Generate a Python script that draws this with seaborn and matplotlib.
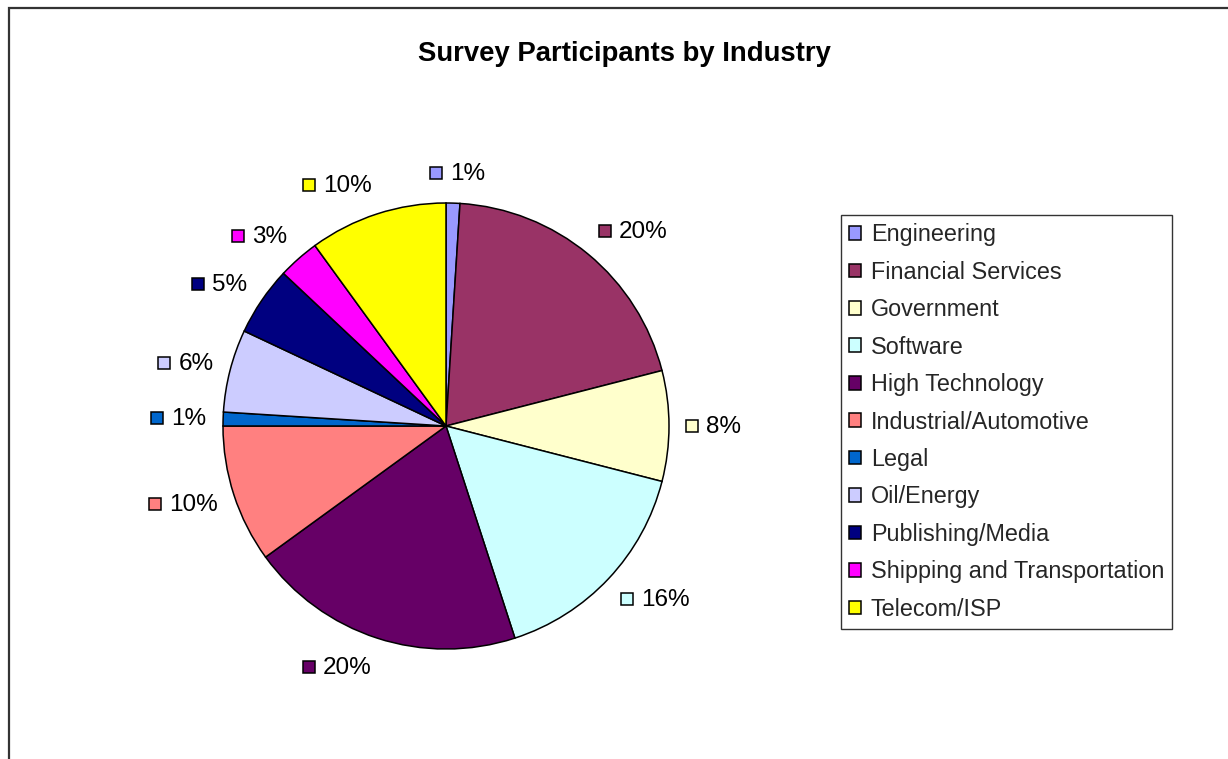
import numpy as np
import matplotlib
matplotlib.use("Agg")
import matplotlib.pyplot as plt
import seaborn as sns
from matplotlib.patches import Rectangle, Patch
from matplotlib.transforms import offset_copy

# Survey data: share of participants (%) per industry
industries = [
    "Engineering", "Financial Services", "Government", "Software",
    "High Technology", "Industrial/Automotive", "Legal", "Oil/Energy",
    "Publishing/Media", "Shipping and Transportation", "Telecom/ISP",
]
shares = [1, 20, 8, 16, 20, 10, 1, 6, 5, 3, 10]
slice_colors = [
    "#9999FF", "#993366", "#FFFFCC", "#CCFFFF", "#660066", "#FF8080",
    "#0066CC", "#CCCCFF", "#000080", "#FF00FF", "#FFFF00",
]
chart_title = "Survey Participants by Industry"

sns.set_theme(style="white")
plt.rcParams["font.family"] = ["Liberation Sans", "DejaVu Sans"]

W, H = 1228, 759
fig = plt.figure(figsize=(W / 100, H / 100), dpi=100)
fig.patch.set_facecolor("white")

# outer chart border (left and top edges visible, the rest runs off the canvas)
fig.add_artist(Rectangle((9 / W, -0.2), 1.3, 1.2 - 8 / H, transform=fig.transFigure,
                         fill=False, edgecolor="#333333", linewidth=1.6, clip_on=False))

# pie axes: centre and radius in pixels
cx, cy, R = 446, 426, 223
ax = fig.add_axes([(cx - R) / W, (H - cy - R) / H, 2 * R / W, 2 * R / H])
palette = sns.color_palette(slice_colors)
wedges, _ = ax.pie(shares, colors=palette, startangle=90, counterclock=False,
                   radius=1, wedgeprops=dict(edgecolor="black", linewidth=1.1))

# percentage labels ("outside end"): a colour key followed by the value,
# the label box pushed outward from an anchor just beyond the rim
renderer = fig.canvas.get_renderer()
label_fs = 17.5
anchor_r = 1.076
key_px, gap_px, box_h = 12, 8, 27
for w, v, col in zip(wedges, shares, palette):
    phi = np.deg2rad((w.theta1 + w.theta2) / 2)
    x, y = anchor_r * np.cos(phi), anchor_r * np.sin(phi)
    t = ax.text(x, y, f"{v}%", fontsize=label_fs, va="center", ha="left", color="black")
    tw = t.get_window_extent(renderer).width
    box_w = key_px + gap_px + tw
    dx = box_w / 2 * np.clip(5 * np.cos(phi), -1, 1)
    dy = box_h / 2 * np.sin(phi)
    left = dx - box_w / 2
    t.set_transform(offset_copy(ax.transData, fig=fig, x=left + key_px + gap_px,
                                y=dy - 1, units="dots"))
    ax.plot([x], [y], marker="s", ms=9, mfc=col, mec="black", mew=1.1, ls="none",
            transform=offset_copy(ax.transData, fig=fig, x=left + key_px / 2, y=dy,
                                  units="dots"),
            clip_on=False)

ax.set_xlim(-1, 1)
ax.set_ylim(-1, 1)
ax.set_aspect("equal")
ax.axis("off")

fig.text(624 / W, 1 - 54 / H, chart_title, ha="center", va="center",
         fontsize=19.8, fontweight="bold", color="black")

handles = [Patch(facecolor=c, edgecolor="black", linewidth=1.1) for c in palette]
leg = fig.legend(handles, industries, loc="upper left",
                 bbox_to_anchor=(841 / W, 1 - 215 / H), fontsize=16.8,
                 frameon=True, fancybox=False, shadow=False,
                 handlelength=0.52, handleheight=0.52, handletextpad=0.4,
                 labelspacing=0.62, borderpad=0.35, borderaxespad=0)
leg.get_frame().set_edgecolor("black")
leg.get_frame().set_linewidth(1.0)

fig.savefig("out.png", dpi=100, facecolor="white")
